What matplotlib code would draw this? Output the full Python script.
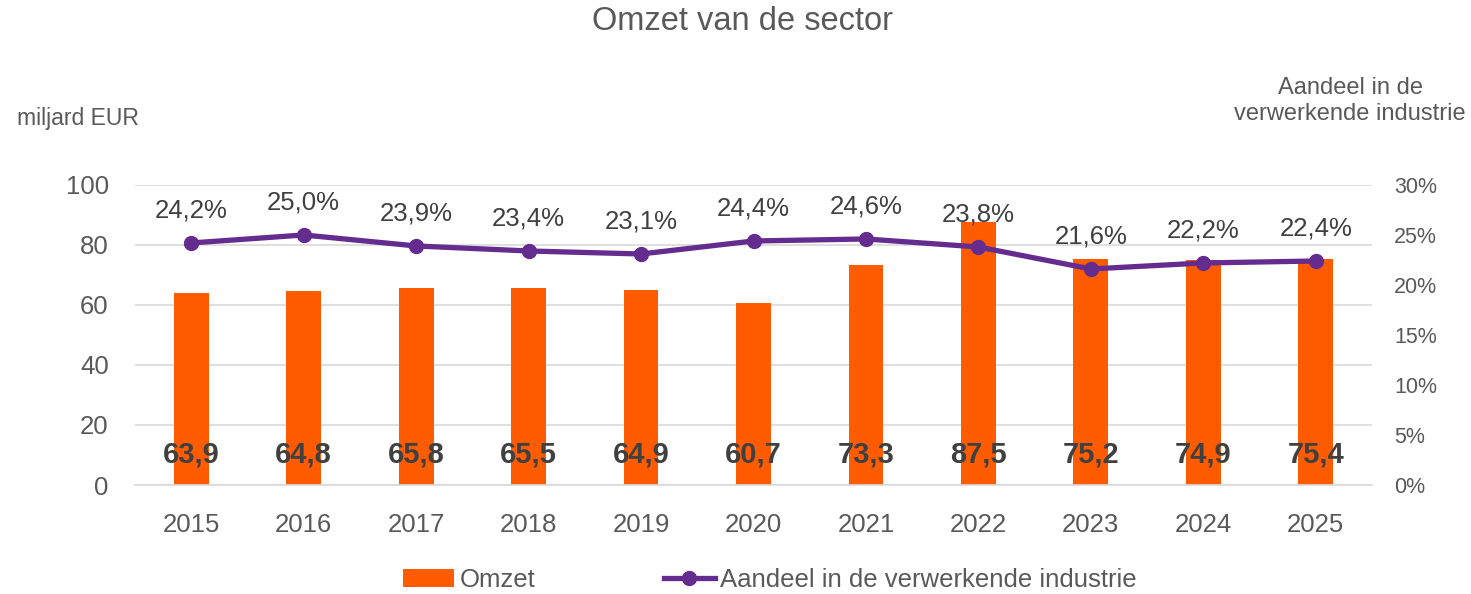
import numpy as np
import matplotlib.pyplot as plt
from matplotlib.ticker import FuncFormatter

plt.rcParams['font.family'] = ['Liberation Sans', 'DejaVu Sans']

jaren = ['2015', '2016', '2017', '2018', '2019', '2020', '2021', '2022', '2023', '2024', '2025']
omzet = [63.9, 64.8, 65.8, 65.5, 64.9, 60.7, 73.3, 87.5, 75.2, 74.9, 75.4]
aandeel = [24.2, 25.0, 23.9, 23.4, 23.1, 24.4, 24.6, 23.8, 21.6, 22.2, 22.4]

oranje = '#FF5B00'
paars = '#652C8F'
grijs = '#595959'
donker = '#404040'

fig = plt.figure(figsize=(14.71, 5.94), dpi=100)
ax = fig.add_axes([0.0918, 0.1835, 0.8409, 0.5051])
x = np.arange(len(jaren))

ax.bar(x, omzet, width=0.31, color=oranje, zorder=2, label='Omzet')
ax.set_ylim(0, 100)
ax.set_xlim(-0.5, len(jaren) - 0.5)
ax.set_yticks(range(0, 101, 20))
ax.set_xticks(x)
ax.set_xticklabels(jaren)
ax.grid(axis='y', color='#D9D9D9', lw=1.2, zorder=0)
for s in ['top', 'right', 'left']:
    ax.spines[s].set_visible(False)
ax.spines['bottom'].set_color('#D9D9D9')
ax.spines['bottom'].set_linewidth(1.2)
ax.tick_params(length=0, labelsize=18.5, labelcolor=grijs)
ax.tick_params(axis='x', pad=20)
ax.tick_params(axis='y', pad=19)

for xi, v in zip(x, omzet):
    ax.text(xi, 10, f'{v:.1f}'.replace('.', ','), ha='center', va='center',
            fontsize=21, fontweight='bold', color=donker, zorder=4)

ax2 = ax.twinx()
ax2.plot(x, aandeel, color=paars, lw=3.8, marker='o', ms=10, zorder=3,
         label='Aandeel in de verwerkende industrie')
ax2.set_ylim(0, 30)
ax2.set_yticks(range(0, 31, 5))
ax2.yaxis.set_major_formatter(FuncFormatter(lambda v, p: f'{v:.0f}%'))
for s in ['top', 'right', 'left', 'bottom']:
    ax2.spines[s].set_visible(False)
ax2.tick_params(length=0, labelsize=15.5, labelcolor=grijs, pad=16)

for xi, v in zip(x, aandeel):
    ax2.annotate(f'{v:.1f}%'.replace('.', ','), (xi, v), xytext=(0, 15),
                 textcoords='offset points', ha='center', va='bottom',
                 fontsize=18.5, color=donker)

fig.text(742 / 1471, 1 - 22 / 594, 'Omzet van de sector', ha='center', va='center',
         fontsize=23.5, color=grijs)
fig.text(17 / 1471, 1 - 118 / 594, 'miljard EUR', ha='left', va='center',
         fontsize=16.5, color=grijs)
fig.text(1350 / 1471, 1 - 101 / 594, 'Aandeel in de\nverwerkende industrie',
         ha='center', va='center', fontsize=17, color=grijs, linespacing=1.2)

h1, l1 = ax.get_legend_handles_labels()
h2, l2 = ax2.get_legend_handles_labels()
fig.legend(h1 + h2, l1 + l2, loc='center', bbox_to_anchor=(770 / 1471, 1 - 580 / 594),
           ncol=2, frameon=False, fontsize=18.5, labelcolor=grijs,
           columnspacing=5.0, handlelength=2.0, handletextpad=0.2)

fig.savefig('out.png', dpi=100)
